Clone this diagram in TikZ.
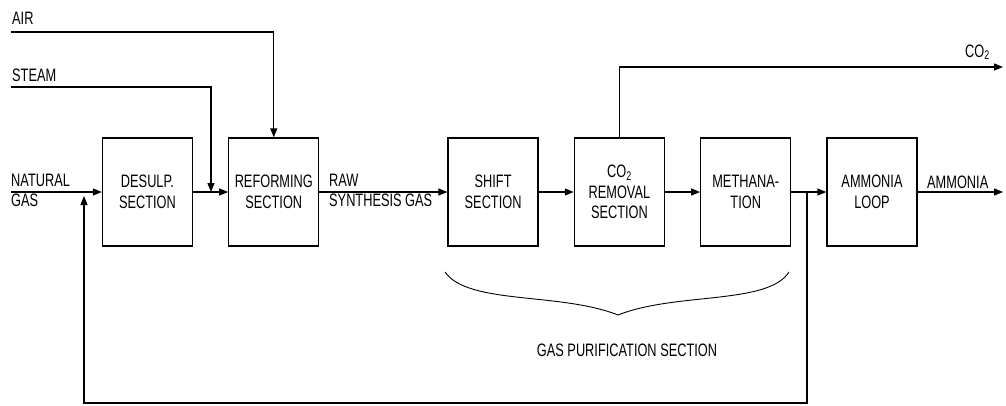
\documentclass[tikz,border=0pt]{standalone}
\usepackage{fontspec}
\setmainfont{Liberation Sans}[FakeStretch=0.71]
\usetikzlibrary{positioning,arrows.meta}
\tikzset{
  unit/.style={draw, line width=1.3pt, minimum width=90pt, minimum height=108pt, align=center, inner sep=2pt},
  flow/.style={line width=1.3pt, -{Triangle[length=9pt,width=7pt]}},
  lbl/.style={inner sep=0pt, align=left},
}
\begin{document}
\begin{tikzpicture}[x=1pt, y=-1pt, font=\fontsize{18}{20.5}\selectfont, node distance=35pt]
  \useasboundingbox (0,0) rectangle (1006,405);

  % process units
  \node[unit] (desulp) at (147.5,192) {DESULP.\\SECTION};
  \node[unit, right=35pt of desulp] (reform) {REFORMING\\SECTION};
  \node[unit, right=128pt of reform] (shift) {SHIFT\\SECTION};
  \node[unit, right=of shift] (co2rem) {CO\textsubscript{2}\\REMOVAL\\SECTION};
  \node[unit, right=of co2rem] (meth) {METHANA-\\TION};
  \node[unit, right=of meth] (loop) {AMMONIA\\LOOP};

  % feeds and products
  \coordinate (airin) at (11,32);
  \coordinate (steamin) at (11,87);
  \coordinate (ngin) at (11,192);
  \coordinate (mix) at (211,192);
  \coordinate (co2out) at (1003,67);
  \coordinate (nh3out) at (1003,192);
  \coordinate (split) at (807,192);
  \coordinate (recbot) at (807,403);
  \coordinate (back) at (84,196);

  \node[lbl, anchor=base west] (air) at (12,24) {AIR};
  \node[lbl, anchor=base west] (steam) at (12,81) {STEAM};
  \node[lbl, anchor=west] (natgas) at (11,190.5) {NATURAL\\GAS};
  \node[lbl, anchor=west] (rawgas) at (329,190.5) {RAW\\SYNTHESIS GAS};
  \node[lbl, anchor=base east] (co2) at (990,57) {CO\textsubscript{2}};
  \node[lbl, anchor=base west] (nh3) at (927,188) {AMMONIA};

  \draw[flow] (airin) -| (reform.north);
  \draw[flow] (steamin) -| (mix);
  \draw[flow] (ngin) -- (desulp.west);
  \draw[flow] (desulp) -- (reform);
  \draw[flow] (reform) -- (shift);
  \draw[flow] (shift) -- (co2rem);
  \draw[flow] (co2rem) -- (meth);
  \draw[flow] (meth) -- (loop);
  \draw[flow] (loop) -- (nh3out);
  \draw[flow] (co2rem.north) |- (co2out);
  \draw[flow] (split) -- (recbot) -| (back);

  % brace under the purification units
  \coordinate (brl) at (445,272);
  \coordinate (brtip) at (618,315);
  \coordinate (brr) at (789,272);
  \draw[line width=0.9pt] (brl) .. controls (468,305) and (560,292) .. (brtip)
                          .. controls (676,292) and (768,305) .. (brr);
  \node (purif) at (627,350) {GAS PURIFICATION SECTION};
\end{tikzpicture}
\end{document}
